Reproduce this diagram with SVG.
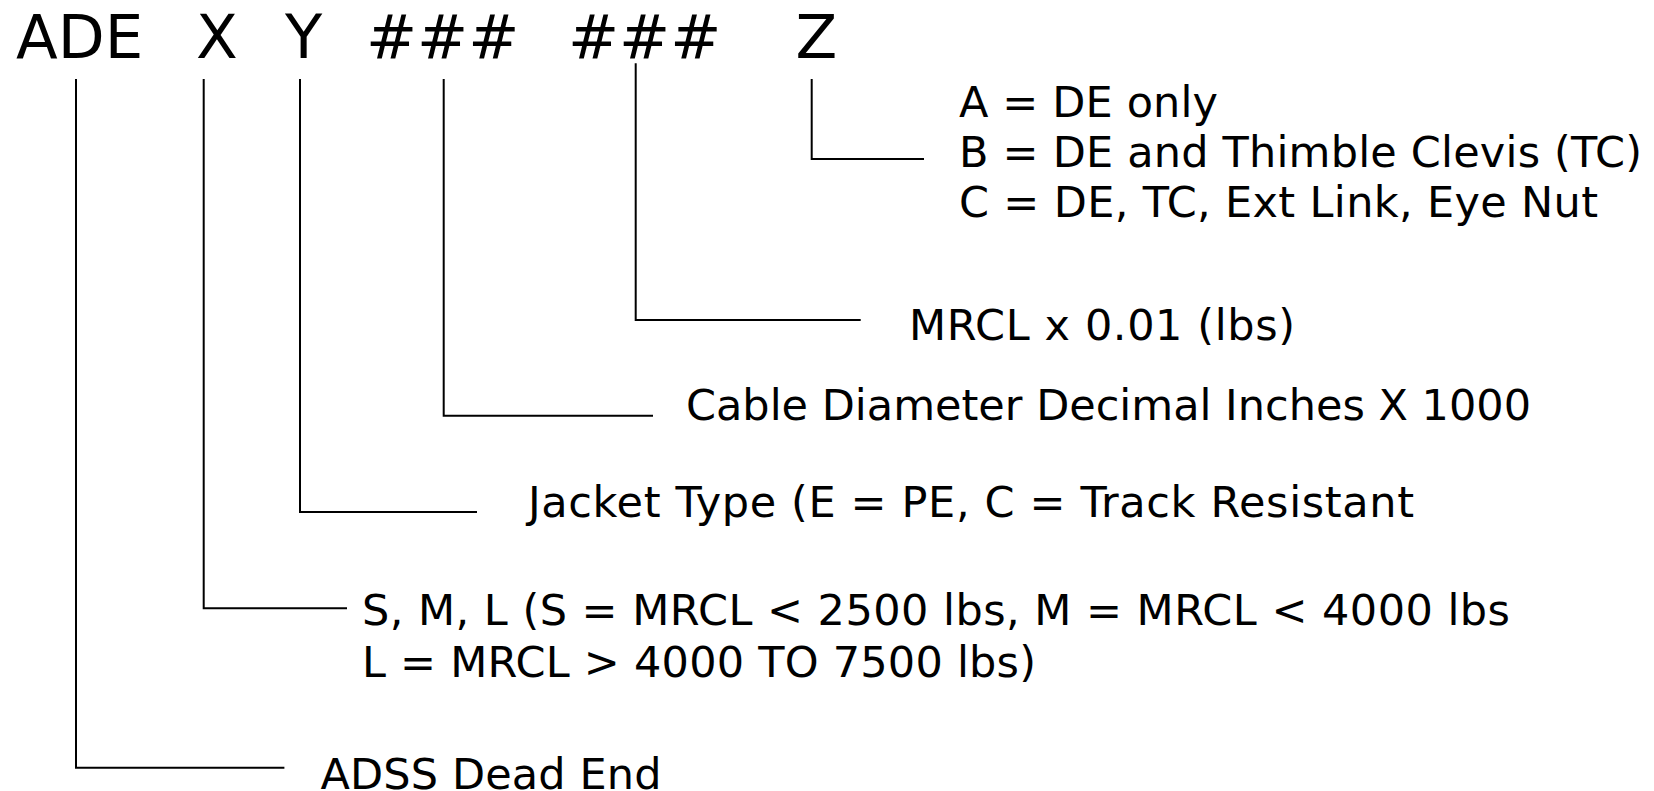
<svg xmlns="http://www.w3.org/2000/svg" width="1654" height="791" viewBox="0 0 1654 791">
<style>
text{font-family:"DejaVu Sans","Verdana",sans-serif;fill:#000;}
.t{font-size:61px;}
.l{font-size:43px;}
.c{fill:none;stroke:#000;stroke-width:2;}
</style>
<rect width="1654" height="791" fill="#fff"/>
<g id="code">
<text class="t" y="57.5"><tspan x="16">ADE</tspan><tspan x="196">X</tspan><tspan x="285">Y</tspan><tspan x="366">###</tspan><tspan x="568">###</tspan><tspan x="795.5">Z</tspan></text>
</g>
<g id="connectors">
<path class="c" d="M76 79V767.7H284.4"/>
<path class="c" d="M203.7 79V608.3H347"/>
<path class="c" d="M300 79V512H477"/>
<path class="c" d="M443.7 79V415.7H653"/>
<path class="c" d="M635.7 63.3V320H860.7"/>
<path class="c" d="M811.7 79V159H924"/>
</g>
<g id="node-z">
<text class="l" x="959" y="116.5" textLength="259" lengthAdjust="spacing">A = DE only</text>
<text class="l" x="959" y="167.3" textLength="683" lengthAdjust="spacing">B = DE and Thimble Clevis (TC)</text>
<text class="l" x="959" y="216.5" textLength="639" lengthAdjust="spacing">C = DE, TC, Ext Link, Eye Nut</text>
</g>
<g id="node-mrcl">
<text class="l" x="909" y="340" textLength="386" lengthAdjust="spacing">MRCL x 0.01 (lbs)</text>
</g>
<g id="node-diameter">
<text class="l" x="686" y="420" textLength="845" lengthAdjust="spacing">Cable Diameter Decimal Inches X 1000</text>
</g>
<g id="node-jacket">
<text class="l" x="528" y="516.5" textLength="886" lengthAdjust="spacing">Jacket Type (E = PE, C = Track Resistant</text>
</g>
<g id="node-size">
<text class="l" x="362" y="625" textLength="1148" lengthAdjust="spacing">S, M, L (S = MRCL &lt; 2500 lbs, M = MRCL &lt; 4000 lbs</text>
<text class="l" x="362" y="676.5" textLength="674" lengthAdjust="spacing">L = MRCL &gt; 4000 TO 7500 lbs)</text>
</g>
<g id="node-ade">
<text class="l" x="320.5" y="789" textLength="341" lengthAdjust="spacing">ADSS Dead End</text>
</g>
</svg>
